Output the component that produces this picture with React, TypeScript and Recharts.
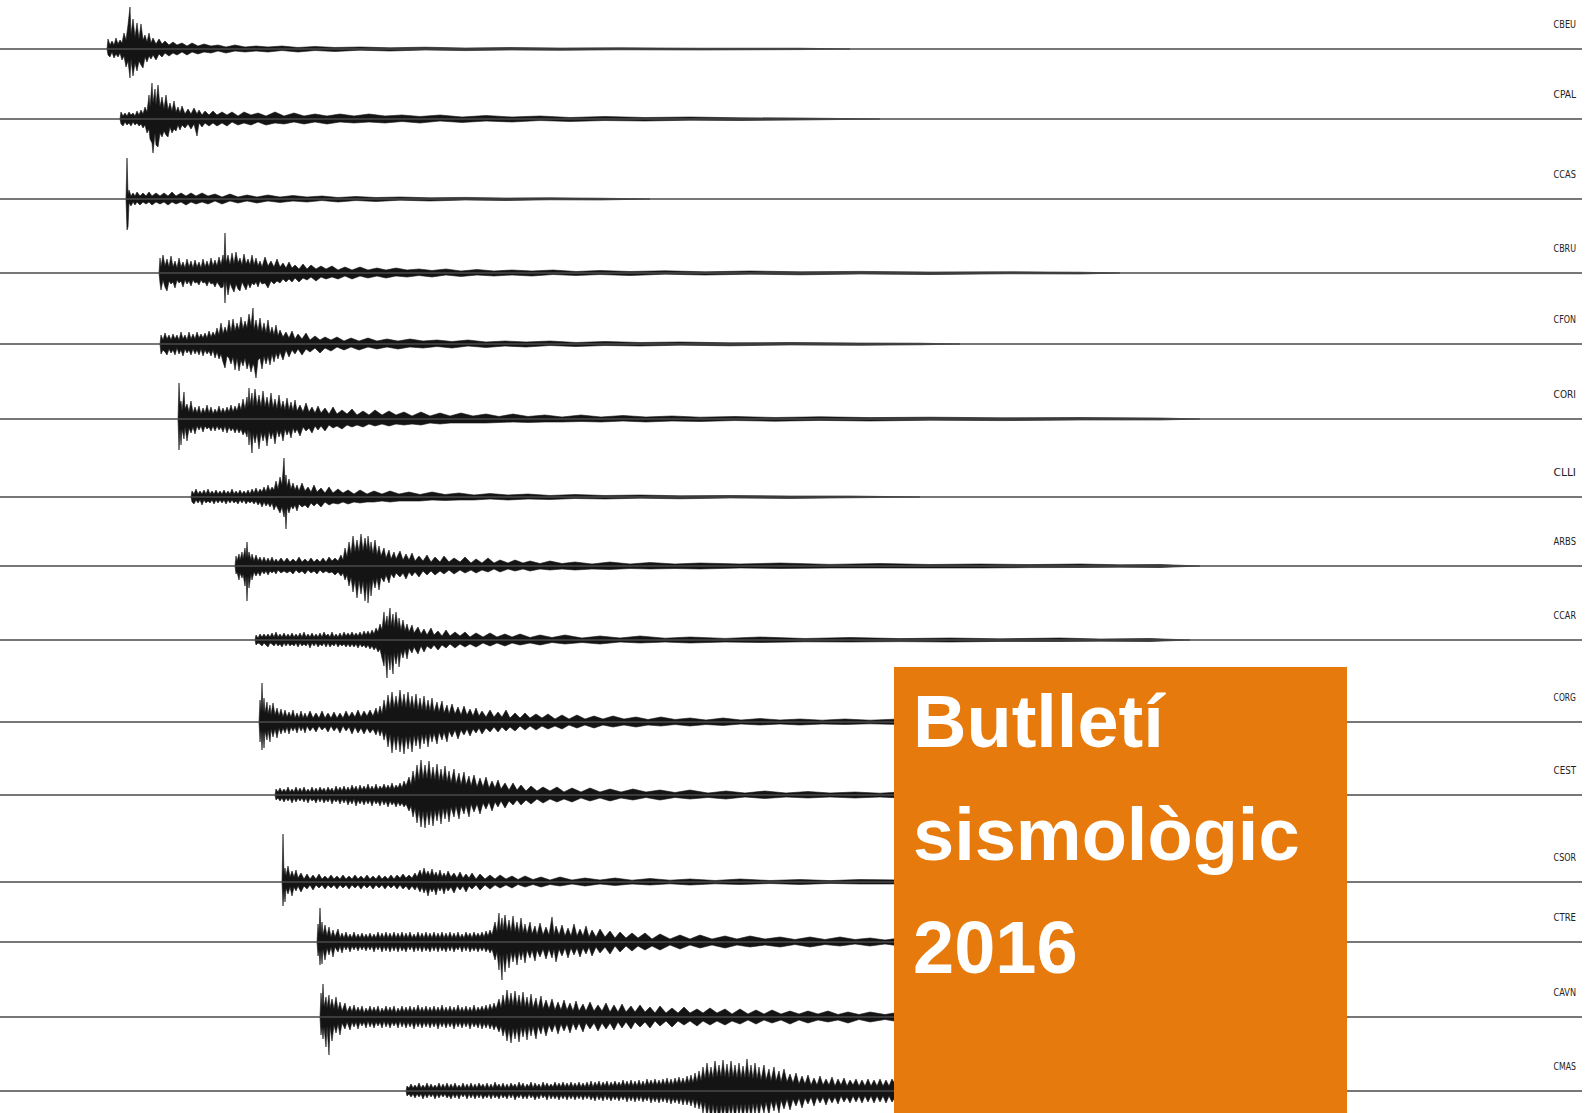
import React from "react";
import { AreaChart, Area, XAxis, YAxis, ReferenceLine } from "recharts";

// each sample: [time (px along the record), amplitude up, amplitude down]
type Sample = [number, number, number];

const CBEU: Sample[] = [
  [107,0,0],[108,10,6],[110,4,8],[112,8,3],[114,4,9],[116,11,5],[118,5,8],[120,9,4],[122,6,11],[124,16,7],[126,9,18],[128,24,12],[130,42,29],[131,14,10],[133,30,27],[135,12,14],[137,26,22],[139,10,12],[141,25,16],[143,9,19],[145,14,8],[147,7,13],[149,16,7],[151,6,10],[153,11,6],[156,5,11],[159,10,5],[162,5,8],[165,8,4],[169,4,7],[173,7,4],[177,4,6],[182,6,3],[187,3,6],[192,6,3],[198,3,5],[204,5,3],[211,3,4],[218,4,2],[226,2,4],[235,4,2],[245,2,3],[256,3,2],[268,2,3],[282,3,1.5],[298,1.5,3],[315,2.5,1.5],[335,1.5,2.5],[360,2,1.2],[390,1.2,2],[425,1.8,1],[465,1,1.6],[510,1.4,1],[560,1,1.3],[620,1.2,0.8],[700,0.8,1],[800,0.8,0.6],[850,0,0],
];
const CPAL: Sample[] = [
  [120,0,0],[121,7,5],[123,3,7],[125,6,3],[127,3,6],[129,7,4],[131,4,7],[133,6,3],[135,3,6],[137,8,4],[139,4,7],[141,9,5],[143,5,9],[145,12,6],[147,7,14],[149,24,10],[150,12,20],[152,36,24],[153,16,34],[155,30,14],[156,14,26],[158,34,28],[160,12,14],[162,22,18],[164,10,12],[166,24,16],[168,9,18],[170,16,8],[172,8,14],[174,18,10],[176,7,12],[178,12,6],[180,6,11],[182,13,6],[185,5,9],[188,10,5],[191,5,10],[194,11,5],[197,5,17],[199,9,4],[202,4,8],[205,8,4],[209,4,7],[213,8,4],[217,4,7],[222,7,4],[227,4,7],[232,7,3],[238,3,6],[244,7,4],[251,4,6],[258,6,3],[266,3,6],[275,7,4],[284,3,5],[294,6,3],[304,3,5],[315,5,3],[327,3,5],[340,5,3],[354,3,4],[369,5,3],[385,3,4],[402,4,2.5],[420,2.5,4],[440,4,2],[462,2,3.5],[486,3.5,2],[512,2,3],[540,3,1.5],[570,1.5,2.5],[605,2.5,1.5],[645,1.5,2],[690,2,1.2],[740,1.2,1.5],[800,1,1],[880,0,0],
];
const CCAS: Sample[] = [
  [126,0,0],[127,41,31],[128,5,28],[129,9,4],[131,3,7],[133,6,3],[135,3,6],[137,7,3],[140,3,6],[143,6,3],[146,3,5],[149,7,3],[152,3,6],[156,6,3],[160,3,5],[164,6,3],[168,3,6],[172,7,3],[176,3,5],[181,6,3],[186,3,6],[191,6,3],[196,3,5],[202,6,3],[208,3,5],[215,5,2],[222,2,5],[230,5,2],[238,2,4],[247,4,2],[257,2,4],[268,4,2],[280,2,3.5],[293,3.5,2],[307,2,3],[322,3,1.5],[338,1.5,3],[356,2.5,1.5],[376,1.5,2.5],[400,2,1.2],[430,1.2,2],[465,1.6,1],[505,1,1.5],[550,1.2,0.8],[600,0.8,1],[650,0,0],
];
const CBRU: Sample[] = [
  [159,0,0],[160,15,10],[161,6,17],[163,18,7],[165,7,14],[167,14,18],[169,6,8],[171,17,11],[173,6,9],[175,12,15],[177,5,7],[179,15,10],[181,6,8],[183,11,14],[185,5,7],[187,14,11],[189,6,8],[191,12,13],[193,5,7],[195,13,10],[197,6,9],[199,11,12],[201,5,7],[203,14,10],[205,6,9],[207,12,13],[209,6,8],[211,15,11],[213,7,10],[215,13,14],[217,7,9],[219,16,12],[221,8,15],[223,18,14],[224,10,8],[225,40,30],[226,10,8],[228,18,22],[230,8,10],[232,20,15],[234,9,19],[236,21,11],[238,10,16],[240,15,18],[242,8,9],[244,19,13],[246,9,17],[248,14,10],[250,8,15],[252,18,10],[254,8,12],[256,15,9],[258,7,14],[260,12,8],[262,6,11],[265,16,10],[268,7,15],[271,12,8],[274,6,11],[277,14,8],[280,6,10],[283,10,6],[286,5,9],[289,11,6],[292,5,9],[295,8,5],[299,4,9],[303,9,5],[307,4,7],[311,8,4],[316,4,8],[321,7,4],[326,4,6],[332,7,4],[338,3,6],[345,6,3],[352,3,6],[360,6,3],[368,3,5],[377,5,3],[386,3,5],[396,5,3],[407,3,4],[419,4,2.5],[432,2.5,4],[446,4,2],[461,2,3.5],[477,3.5,2],[494,2,3],[512,3,2],[532,2,3],[553,3,1.5],[576,1.5,2.5],[600,2.5,1.5],[630,1.5,2.5],[665,2.2,1.2],[705,1.2,2],[750,2,1.2],[800,1.2,1.8],[860,1.6,1],[930,1,1.5],[1010,1.2,0.8],[1080,0.8,1],[1120,0,0],
];
const CFON: Sample[] = [
  [160,0,0],[161,9,10],[163,4,6],[165,11,8],[167,5,11],[169,9,5],[171,4,9],[173,10,6],[175,5,11],[177,9,4],[179,4,10],[181,12,6],[183,5,12],[185,9,5],[187,4,9],[189,12,6],[191,5,11],[193,10,5],[195,5,10],[197,12,6],[199,6,11],[201,10,5],[203,6,12],[205,11,6],[207,6,10],[209,13,7],[211,7,12],[213,12,6],[215,8,14],[217,16,8],[219,9,15],[221,21,10],[223,10,18],[225,17,24],[227,11,12],[229,24,14],[231,12,20],[233,25,13],[235,13,26],[237,21,14],[239,14,27],[241,27,16],[243,15,22],[245,23,14],[247,16,25],[249,30,18],[251,18,28],[253,36,20],[254,14,22],[256,24,34],[258,13,16],[260,26,14],[262,12,25],[264,21,12],[266,11,20],[268,24,12],[270,10,21],[272,17,10],[274,9,18],[276,19,9],[278,8,15],[280,14,8],[283,7,16],[286,12,6],[289,6,13],[292,13,6],[295,5,10],[298,10,5],[302,5,11],[306,11,5],[310,4,8],[315,8,4],[320,4,9],[325,7,4],[331,4,7],[337,7,3],[344,3,6],[351,6,3],[359,3,6],[368,6,3],[377,3,5],[387,5,3],[398,3,5],[410,5,3],[423,3,4],[437,4,2.5],[452,2.5,4],[468,4,2],[486,2,3.5],[505,3,2],[526,2,3],[550,3,1.5],[576,1.5,2.5],[605,2.5,1.5],[640,1.5,2],[680,2,1.2],[730,1.2,1.8],[790,1.5,1],[860,1,1.3],[920,0.8,0.8],[960,0,0],
];
const CORI: Sample[] = [
  [178,0,0],[179,36,31],[180,14,10],[181,18,26],[182,8,10],[184,27,20],[185,10,8],[187,15,22],[189,7,9],[191,18,14],[193,6,8],[195,12,15],[197,6,7],[199,13,11],[201,5,7],[203,11,13],[205,6,7],[207,14,10],[209,6,8],[211,12,12],[213,5,7],[215,10,12],[217,6,7],[219,13,11],[221,6,8],[223,11,13],[225,6,7],[227,12,14],[229,7,8],[231,14,12],[233,7,9],[235,13,14],[237,8,9],[239,16,14],[241,9,10],[243,20,16],[245,10,12],[247,22,18],[248,12,10],[249,31,26],[250,14,12],[252,26,34],[253,12,14],[255,30,24],[257,13,14],[259,24,30],[261,12,13],[263,28,22],[265,12,14],[267,22,27],[269,11,12],[271,26,20],[273,11,13],[275,20,25],[277,10,11],[279,24,18],[281,10,12],[283,18,22],[285,9,10],[287,21,16],[289,9,11],[291,17,19],[293,8,9],[295,19,14],[297,8,10],[300,14,17],[303,7,8],[306,16,12],[309,7,9],[312,12,14],[315,6,7],[318,13,11],[321,6,7],[325,11,12],[329,5,6],[333,12,9],[337,5,7],[342,9,10],[347,5,6],[352,10,8],[357,4,6],[363,8,8],[369,4,5],[375,9,7],[382,4,5],[389,8,7],[396,4,5],[404,7,6],[412,3,5],[421,7,6],[430,3,4],[440,6,5],[450,3,4],[461,6,4],[473,3,4],[486,5,4],[499,2.5,3.5],[513,5,3],[528,2.5,3.5],[545,4,3],[562,2,3],[581,4,2.5],[601,2,3],[623,3.5,2],[646,2,3],[672,3,2],[700,1.8,2.5],[735,2.5,1.5],[775,1.5,2.2],[820,2.2,1.4],[870,1.4,2],[930,1.8,1.2],[1000,1.2,1.6],[1080,1.4,1],[1160,1,1],[1200,0,0],
];
const CLLI: Sample[] = [
  [191,0,0],[192,6,5],[194,3,7],[196,8,3],[198,3,6],[200,6,3],[202,3,8],[204,7,3],[206,3,6],[208,8,4],[210,3,6],[212,6,3],[214,3,7],[216,7,3],[218,3,6],[220,6,3],[222,3,6],[224,7,3],[226,3,7],[228,6,3],[230,3,6],[232,8,3],[234,3,6],[236,6,4],[238,3,7],[240,7,3],[242,3,6],[244,6,3],[246,3,7],[248,7,4],[250,3,6],[252,8,4],[254,4,7],[256,9,4],[258,4,8],[260,8,5],[262,5,10],[264,10,5],[266,5,9],[268,12,6],[270,6,10],[272,10,6],[274,7,13],[276,16,8],[278,8,12],[280,20,16],[282,12,10],[284,39,20],[285,14,12],[286,22,32],[287,10,10],[289,18,16],[291,8,9],[293,14,12],[295,7,8],[297,12,14],[299,6,7],[302,14,10],[305,6,8],[308,10,11],[311,5,6],[314,12,9],[317,5,6],[321,9,10],[325,4,5],[329,10,8],[333,4,6],[338,8,7],[343,4,5],[348,7,7],[354,3,5],[360,7,6],[367,3,5],[374,6,5],[382,3,4],[390,6,5],[399,3,4],[409,5,4],[420,2.5,4],[432,5,3],[445,2.5,3.5],[459,4,3],[474,2,3],[490,3.5,2],[508,2,3],[528,3,2],[550,1.5,2.5],[575,2.5,1.5],[605,1.5,2],[640,2,1.2],[680,1.2,1.8],[730,1.5,1],[790,1,1.4],[850,1,0.8],[920,0,0],
];
const ARBS: Sample[] = [
  [235,0,0],[236,10,8],[237,5,6],[239,12,14],[240,6,7],[242,14,12],[243,7,8],[245,18,20],[246,8,10],[247,24,35],[248,8,10],[249,14,22],[251,6,8],[252,12,14],[254,5,6],[256,11,10],[258,5,6],[260,9,10],[262,4,5],[264,9,8],[266,4,5],[268,8,9],[270,4,5],[272,9,7],[274,4,5],[276,7,8],[278,4,4],[281,8,7],[284,4,5],[287,8,7],[290,4,5],[293,7,8],[296,4,4],[299,9,7],[302,4,5],[305,7,8],[308,4,4],[311,8,7],[314,4,5],[317,7,8],[320,4,4],[323,8,7],[326,4,5],[329,9,7],[332,5,6],[335,8,9],[338,5,6],[341,11,10],[343,6,7],[345,18,14],[347,9,9],[349,24,20],[351,12,11],[353,30,26],[355,14,14],[357,26,32],[359,14,14],[361,32,28],[363,15,15],[365,28,35],[367,16,16],[368,30,37],[370,14,15],[371,24,30],[373,12,13],[375,26,22],[377,11,12],[379,20,24],[381,10,11],[384,18,16],[386,8,9],[389,16,17],[391,7,8],[394,14,12],[396,7,7],[400,15,11],[403,6,7],[406,12,13],[409,6,6],[412,13,10],[415,5,6],[419,10,11],[423,5,5],[427,11,9],[431,4,5],[435,9,9],[440,4,5],[444,10,8],[449,4,4],[454,8,8],[460,4,4],[465,9,7],[471,3,4],[476,7,7],[482,3,4],[488,8,6],[494,3,3],[500,6,6],[508,3,3],[515,6,5],[523,3,3],[530,5,5],[540,2.5,3],[550,5,4],[562,2.5,3],[575,4,4],[592,2,3],[610,4,3.5],[630,2,2.5],[650,3.5,3],[675,2,2.5],[700,3,3],[740,2,2],[780,3,2.5],[830,1.6,2],[880,2.5,2],[930,1.5,2],[980,2,2],[1030,1.4,1.6],[1080,2,1.5],[1120,1.2,1.2],[1160,1.5,1.5],[1200,0,0],
];
const CCAR: Sample[] = [
  [255,0,0],[256,5,5],[258,2,3],[260,6,4],[262,3,6],[264,6,3],[266,3,5],[268,6,7],[270,3,3],[272,7,4],[274,3,6],[276,8,3],[278,3,6],[280,6,4],[282,3,7],[284,7,3],[286,3,6],[288,6,3],[290,3,6],[292,7,4],[294,3,6],[296,6,3],[298,3,7],[300,7,3],[302,3,6],[304,8,4],[306,3,6],[308,6,3],[310,3,8],[312,7,3],[314,3,6],[316,6,3],[318,3,7],[320,7,4],[322,3,6],[324,8,3],[326,4,7],[328,6,3],[330,3,7],[332,8,4],[334,3,6],[336,6,3],[338,3,7],[340,7,4],[342,3,6],[344,8,4],[346,4,7],[348,7,4],[350,4,7],[352,8,4],[354,4,7],[356,7,4],[358,4,8],[360,8,4],[362,4,7],[364,9,5],[366,5,8],[368,9,5],[370,5,9],[372,10,6],[374,6,10],[376,12,7],[378,8,12],[380,16,9],[382,10,18],[384,28,26],[385,14,12],[387,24,38],[388,13,14],[390,32,30],[391,14,14],[393,26,34],[394,12,13],[396,28,24],[398,12,12],[399,22,27],[401,10,11],[403,20,18],[405,9,9],[407,16,19],[409,8,8],[412,15,13],[414,7,7],[418,13,14],[421,6,6],[424,11,12],[427,5,6],[431,12,9],[434,5,5],[438,9,10],[442,4,5],[446,10,8],[450,4,4],[455,8,8],[460,4,4],[465,8,7],[470,3,4],[476,7,7],[483,3,3],[490,7,6],[497,3,3],[505,6,6],[512,3,3],[520,6,5],[530,2.5,3],[540,5,5],[552,2.5,2.5],[565,5,4],[582,2,2.5],[600,4,4],[620,2,2],[640,4,3],[665,1.8,2],[690,3,3],[725,1.6,2],[760,3,2.5],[805,1.5,1.8],[850,2.5,2],[900,1.4,1.6],[950,2,2],[1000,1.2,1.4],[1060,2,1.5],[1100,1,1.2],[1150,1.5,1.5],[1190,0,0],
];
const CORG: Sample[] = [
  [259,0,0],[260,22,20],[261,10,8],[262,39,28],[263,10,9],[264,24,26],[265,9,9],[267,20,18],[268,8,8],[270,17,20],[271,7,7],[273,19,15],[275,7,7],[277,14,16],[279,6,6],[281,13,12],[283,5,6],[285,12,11],[287,5,5],[289,10,12],[291,5,5],[293,12,9],[295,4,5],[297,9,11],[299,4,4],[301,11,9],[303,4,5],[305,9,11],[307,4,4],[310,11,9],[313,4,5],[316,9,10],[319,4,4],[322,11,8],[325,4,5],[328,9,10],[331,4,4],[334,10,9],[337,4,5],[340,9,11],[343,4,4],[346,11,9],[349,5,5],[352,10,12],[355,5,5],[358,12,11],[361,5,6],[364,11,12],[367,6,6],[370,12,11],[373,6,7],[376,14,13],[378,7,7],[380,16,14],[382,8,8],[384,22,18],[386,11,10],[388,27,25],[390,13,12],[392,30,31],[394,14,14],[396,26,28],[398,14,13],[400,32,30],[402,15,15],[404,28,32],[406,14,14],[408,30,27],[410,14,14],[412,26,30],[414,13,13],[416,28,24],[418,12,13],[420,24,27],[422,12,12],[424,26,22],[426,11,12],[428,22,25],[430,11,11],[432,24,20],[434,10,11],[437,20,22],[439,10,10],[442,21,18],[444,9,10],[447,17,20],[449,8,9],[452,18,15],[455,8,8],[458,15,17],[461,7,8],[464,16,13],[467,7,7],[470,13,14],[473,6,7],[476,14,11],[479,6,6],[482,11,12],[486,5,6],[490,12,10],[494,5,5],[498,10,10],[502,5,5],[506,12,9],[510,4,5],[515,9,9],[520,4,4],[525,9,8],[530,4,4],[536,8,8],[542,4,4],[548,8,7],[555,3,4],[562,7,7],[569,3,3],[577,7,6],[585,3,3],[594,6,6],[603,3,3],[613,6,5],[624,3,3],[636,5,5],[648,2.5,3],[661,5,4],[675,2.5,2.5],[690,4,4],[706,2,2.5],[723,4,3.5],[741,2,2],[760,3.5,3],[780,2,2],[800,3,3],[822,1.8,2],[845,3,2.5],[870,1.8,1.8],[900,3,2.5],
];
const CEST: Sample[] = [
  [275,0,0],[276,6,5],[278,3,3],[280,7,6],[282,3,3],[284,6,7],[286,3,3],[288,8,6],[290,3,3],[292,6,8],[294,3,3],[296,8,7],[298,3,3],[300,7,6],[302,3,3],[304,8,7],[306,3,3],[308,6,8],[310,3,3],[312,8,6],[314,3,4],[316,7,8],[318,3,3],[320,8,7],[322,4,3],[324,7,8],[326,3,4],[328,8,7],[330,4,3],[332,7,9],[334,3,4],[336,9,7],[338,4,4],[340,8,9],[342,4,4],[344,9,8],[346,4,4],[348,8,10],[350,4,5],[352,10,9],[354,5,4],[356,9,11],[358,4,5],[360,10,9],[362,5,5],[364,9,10],[366,5,5],[368,11,9],[370,5,5],[372,9,11],[374,5,5],[376,11,9],[378,5,6],[380,9,11],[382,6,5],[384,11,10],[386,6,6],[388,10,12],[390,6,6],[392,12,10],[394,6,7],[396,10,12],[398,7,7],[400,12,11],[402,7,8],[404,14,12],[406,9,9],[409,18,16],[411,10,11],[413,24,22],[415,13,13],[417,30,28],[419,15,15],[421,35,32],[423,16,16],[425,30,33],[427,16,16],[429,34,30],[431,15,15],[433,28,31],[435,15,15],[437,31,26],[439,14,14],[441,26,29],[443,14,13],[445,29,24],[447,13,13],[449,24,27],[451,12,12],[454,26,22],[456,11,11],[459,22,24],[461,10,11],[464,23,19],[466,10,10],[469,19,22],[471,9,9],[474,20,17],[477,8,9],[480,17,19],[483,8,8],[486,18,14],[489,7,7],[492,14,16],[495,7,7],[498,15,12],[501,6,6],[505,12,13],[509,5,6],[513,12,10],[517,5,5],[521,10,10],[526,4,5],[531,9,9],[537,4,4],[543,8,8],[550,4,4],[557,8,7],[564,3,4],[572,7,7],[581,3,3],[590,7,6],[600,3,3],[610,6,6],[621,3,3],[633,6,5],[646,3,2.5],[660,5,5],[675,2.5,2.5],[690,5,4],[708,2,2.5],[726,4,4],[745,2,2],[765,4,3.5],[786,2,2],[808,3.5,3],[830,2,2],[855,3,3],[880,1.8,2],[900,3,3],
];
const CSOR: Sample[] = [
  [282,0,0],[283,48,24],[284,8,8],[285,14,20],[286,6,6],[288,16,12],[290,5,5],[292,11,14],[294,5,5],[296,12,9],[298,4,4],[301,9,10],[304,3,4],[307,8,7],[310,3,3],[313,7,8],[316,3,3],[319,8,6],[322,3,3],[325,6,7],[328,3,3],[331,7,6],[334,3,3],[337,6,7],[340,3,3],[343,7,6],[346,3,3],[349,6,7],[352,3,3],[355,7,6],[358,3,3],[361,6,7],[364,3,3],[367,7,6],[370,3,3],[373,6,7],[376,3,3],[379,7,6],[382,3,3],[385,6,7],[388,3,3],[391,7,6],[394,3,3],[397,7,7],[400,4,3],[403,8,7],[406,4,4],[409,7,8],[412,4,4],[415,9,8],[417,5,4],[420,12,10],[422,6,5],[424,14,11],[426,7,6],[428,11,14],[430,6,6],[432,13,10],[434,6,6],[436,10,13],[438,5,5],[440,12,9],[442,5,5],[444,9,12],[446,5,5],[448,11,9],[451,5,5],[454,9,11],[457,4,4],[460,10,8],[463,4,4],[466,8,10],[469,4,4],[472,9,7],[476,3,3],[480,8,8],[485,3,3],[490,7,7],[495,3,3],[500,7,6],[506,3,3],[512,6,6],[518,2.5,2.5],[525,6,5],[533,2.5,2.5],[541,5,5],[550,2,2.5],[560,5,4],[572,2,2],[585,4,4],[600,2,2],[615,4,3.5],[632,1.8,2],[650,3.5,3],[670,1.8,1.8],[690,3,3],[715,1.5,1.8],[740,3,2.5],[770,1.5,1.5],[800,2.5,2.5],[830,1.4,1.4],[860,2.5,2],[900,2,2],
];
const CTRE: Sample[] = [
  [317,0,0],[318,18,14],[319,8,8],[320,34,23],[321,8,8],[322,20,22],[323,7,7],[325,17,18],[327,6,6],[329,15,13],[331,5,5],[333,12,15],[335,5,5],[338,13,10],[340,4,4],[342,9,11],[344,4,4],[346,10,8],[348,4,4],[350,8,10],[352,4,4],[354,10,8],[356,4,4],[358,8,9],[360,4,4],[362,9,8],[364,4,4],[366,8,9],[368,4,4],[370,9,8],[372,4,4],[374,8,10],[376,4,4],[378,10,8],[380,4,4],[382,9,10],[384,4,4],[386,10,9],[388,4,4],[390,9,10],[392,4,4],[394,10,9],[396,4,4],[398,9,10],[400,4,4],[402,10,9],[404,4,5],[406,9,10],[408,4,4],[410,10,8],[412,4,4],[414,8,10],[416,4,4],[418,10,9],[420,4,4],[422,9,10],[424,4,4],[426,10,9],[428,4,5],[430,9,10],[432,4,4],[434,10,9],[436,4,4],[438,9,10],[440,4,4],[442,10,9],[444,4,5],[446,9,10],[448,4,4],[450,10,9],[452,4,4],[454,9,10],[456,4,5],[458,10,8],[460,4,4],[462,8,10],[464,4,4],[466,10,9],[468,5,4],[470,9,10],[472,4,5],[474,10,9],[476,5,5],[478,9,10],[480,5,5],[482,10,9],[484,5,5],[486,11,10],[488,6,6],[490,12,11],[492,7,7],[495,20,18],[497,10,10],[499,29,28],[500,12,12],[502,24,38],[503,11,12],[505,27,30],[507,11,11],[509,22,26],[511,10,10],[513,26,20],[515,10,10],[517,20,23],[519,9,9],[521,24,18],[523,9,9],[525,18,21],[527,8,8],[530,20,16],[532,8,8],[535,16,19],[537,7,8],[540,19,15],[543,7,7],[546,15,17],[549,7,7],[552,25,16],[554,7,7],[556,16,20],[559,7,7],[562,17,14],[565,6,6],[568,14,16],[571,6,6],[574,18,13],[577,6,6],[580,13,15],[583,6,6],[586,16,12],[589,5,5],[592,12,14],[596,5,5],[600,13,11],[605,5,5],[610,11,12],[615,4,4],[620,10,10],[626,4,4],[632,9,9],[638,4,4],[645,9,8],[652,3,4],[660,8,8],[670,3,3],[680,7,7],[690,3,3],[700,7,6],[712,3,3],[725,6,6],[737,3,3],[750,6,5],[765,3,3],[780,5,5],[795,2.5,2.5],[810,5,5],[825,2.5,2.5],[840,5,4],[855,2.5,2],[870,4,4],[885,2,2],[900,4,4],
];
const CAVN: Sample[] = [
  [320,0,0],[321,24,18],[322,10,10],[323,33,22],[324,10,10],[326,20,30],[327,9,9],[329,22,38],[330,9,9],[332,18,24],[334,8,8],[336,20,16],[338,7,7],[340,15,18],[342,6,6],[345,14,12],[347,5,5],[350,11,13],[352,5,5],[354,12,10],[356,5,5],[358,10,12],[360,5,5],[362,11,9],[364,4,5],[366,9,11],[368,5,4],[370,11,10],[372,5,5],[374,10,11],[376,5,5],[378,11,9],[380,4,5],[382,9,11],[384,5,4],[386,11,10],[388,5,5],[390,10,11],[392,5,5],[394,11,9],[396,4,5],[398,9,11],[400,5,4],[402,11,10],[404,5,5],[406,10,11],[408,5,5],[410,11,10],[412,5,5],[414,10,12],[416,5,5],[418,12,10],[420,5,5],[422,10,11],[424,5,5],[426,11,10],[428,5,5],[430,10,11],[432,5,5],[434,11,10],[436,5,5],[438,10,12],[440,5,5],[442,12,10],[444,5,5],[446,10,11],[448,5,5],[450,11,10],[452,5,5],[454,10,12],[456,5,5],[458,12,10],[460,5,5],[462,10,11],[464,5,5],[466,11,10],[468,5,5],[470,10,12],[472,5,5],[474,12,10],[476,5,6],[478,10,11],[480,6,5],[482,11,12],[484,6,6],[486,12,11],[488,6,6],[490,13,12],[492,7,7],[494,14,13],[496,8,8],[499,18,15],[501,9,9],[503,22,19],[505,11,11],[507,27,24],[509,12,12],[511,24,26],[513,11,11],[515,26,22],[517,11,11],[519,22,25],[521,10,10],[523,25,20],[525,10,10],[527,20,23],[529,9,9],[531,23,19],[533,9,9],[536,19,22],[538,8,9],[541,21,17],[543,8,8],[546,17,19],[549,8,8],[552,18,15],[555,7,7],[558,15,17],[561,7,7],[564,17,14],[567,7,7],[570,14,16],[573,6,6],[576,16,13],[579,6,6],[583,13,15],[586,6,6],[590,15,12],[594,6,6],[598,12,14],[602,6,6],[606,14,12],[610,5,6],[614,12,13],[618,5,5],[622,13,11],[626,5,5],[631,11,12],[635,5,5],[640,12,10],[645,5,5],[650,10,11],[655,4,4],[660,11,9],[666,4,4],[672,9,10],[678,4,4],[684,10,8],[690,4,4],[697,8,9],[703,4,4],[710,9,8],[717,4,4],[725,8,8],[732,3,4],[740,8,7],[748,3,3],[756,7,7],[764,3,3],[772,7,6],[781,3,3],[790,6,7],[799,3,3],[808,6,6],[818,3,3],[828,6,5],[838,2.5,3],[848,5,6],[859,2.5,2.5],[870,5,5],[885,2.5,2.5],[900,5,5],
];
const CMAS: Sample[] = [
  [406,0,0],[407,5,5],[409,3,3],[411,7,6],[413,3,3],[415,6,7],[417,3,3],[419,8,6],[421,3,3],[423,6,8],[425,3,3],[427,8,7],[429,3,3],[431,7,6],[433,3,3],[435,6,8],[437,3,3],[439,8,7],[441,3,3],[443,7,6],[445,3,3],[447,8,7],[449,3,4],[451,7,8],[453,3,3],[455,8,7],[457,3,3],[459,6,8],[461,3,3],[463,8,6],[465,3,3],[467,7,8],[469,3,3],[471,8,7],[473,3,3],[475,7,8],[477,3,3],[479,8,7],[481,4,3],[483,7,8],[485,3,4],[487,8,7],[489,3,3],[491,7,8],[493,3,3],[495,9,7],[497,4,4],[499,7,8],[501,3,3],[503,8,7],[505,3,4],[507,7,8],[509,3,3],[511,8,7],[513,4,3],[515,7,9],[517,3,4],[519,9,7],[521,4,3],[523,8,8],[525,3,4],[527,7,8],[529,4,3],[531,9,7],[533,3,4],[535,8,9],[537,4,4],[539,7,8],[541,3,3],[543,9,7],[545,4,4],[547,8,9],[549,4,3],[551,7,8],[553,4,4],[555,9,8],[557,4,4],[559,8,9],[561,4,4],[563,9,8],[565,4,4],[567,8,9],[569,4,4],[571,9,8],[573,4,4],[575,8,9],[577,4,4],[579,9,8],[581,4,4],[583,8,9],[585,4,4],[587,9,8],[589,4,4],[591,10,9],[593,4,5],[595,9,10],[597,5,4],[599,10,9],[601,4,5],[603,9,10],[605,5,4],[607,10,9],[609,4,5],[611,9,10],[613,5,5],[615,10,9],[617,5,5],[619,9,10],[621,5,5],[623,11,9],[625,5,5],[627,10,11],[629,5,5],[631,11,10],[633,5,5],[635,10,11],[637,5,5],[639,11,10],[641,5,5],[643,10,11],[645,5,6],[647,12,10],[649,6,5],[651,11,12],[653,6,6],[655,12,11],[657,6,6],[659,11,12],[661,6,6],[663,12,11],[665,6,6],[667,13,12],[669,6,6],[671,12,13],[673,6,7],[675,13,12],[677,7,7],[679,14,13],[681,7,7],[683,13,14],[685,7,7],[687,15,14],[689,8,8],[691,16,15],[693,8,8],[695,18,17],[697,9,9],[699,20,18],[701,10,10],[703,24,22],[705,12,11],[707,28,26],[709,13,13],[711,24,30],[713,13,13],[715,30,28],[717,14,14],[719,26,32],[721,14,14],[723,31,27],[725,14,14],[727,27,30],[729,13,14],[731,30,26],[733,14,13],[735,26,29],[737,13,13],[739,28,25],[741,13,13],[743,25,28],[745,13,13],[747,32,26],[749,13,13],[751,26,27],[753,12,12],[755,28,24],[757,12,12],[759,24,26],[761,11,12],[764,26,22],[766,11,11],[769,22,24],[771,10,10],[774,24,20],[776,10,10],[779,20,22],[781,9,9],[784,22,18],[787,9,8],[790,17,19],[793,8,8],[796,18,15],[799,7,7],[802,15,17],[805,7,7],[808,16,13],[811,6,6],[814,13,15],[817,6,6],[820,15,12],[823,6,6],[826,12,14],[829,6,6],[832,14,12],[835,5,6],[838,12,13],[841,6,5],[844,13,11],[847,5,6],[850,11,12],[853,6,5],[856,12,11],[859,5,5],[862,11,12],[865,5,5],[868,12,11],[871,5,5],[874,11,12],[877,5,5],[880,12,11],[883,5,5],[886,11,12],[889,5,5],[892,12,11],[896,5,5],[900,11,11],
];

const STATIONS = ["CBEU", "CPAL", "CCAS", "CBRU", "CFON", "CORI", "CLLI", "ARBS", "CCAR", "CORG", "CEST", "CSOR", "CTRE", "CAVN", "CMAS"];
const TRACES = [CBEU, CPAL, CCAS, CBRU, CFON, CORI, CLLI, ARBS, CCAR, CORG, CEST, CSOR, CTRE, CAVN, CMAS];

const TITLE = ["Butlletí", "sismològic", "2016"];

// layout
const W = 1588;
const H = 1113;
const TRACE_H = 120;
const BASELINES = [49, 119, 199, 273, 344, 419, 497, 566, 640, 722, 795, 882, 942, 1017, 1091];
const INK = "#141414";

function Trace({ name, samples, y }: { name: string; samples: Sample[]; y: number }) {
  const rows = samples.map(([t, up, dn]) => ({ t, band: [-dn, up] }));
  return (
    <div style={{ position: "absolute", left: 0, top: y - TRACE_H / 2 }}>
      <AreaChart width={W} height={TRACE_H} data={rows} margin={{ top: 0, right: 0, bottom: 0, left: 0 }}>
        <XAxis dataKey="t" type="number" domain={[0, W]} hide />
        <YAxis type="number" domain={[-TRACE_H / 2, TRACE_H / 2]} allowDataOverflow hide />
        <ReferenceLine
          segment={[{ x: 0, y: 0 }, { x: 1582, y: 0 }]}
          stroke="#4a4a4a"
          strokeWidth={1.3}
        />
        <Area
          dataKey="band"
          type="linear"
          stroke={INK}
          strokeWidth={0.6}
          fill={INK}
          fillOpacity={1}
          dot={false}
          activeDot={false}
          isAnimationActive={false}
        />
      </AreaChart>
      <svg width={W} height={TRACE_H} style={{ position: "absolute", left: 0, top: 0, pointerEvents: "none" }}>
        <text
          x={1576}
          y={TRACE_H / 2 - 21}
          textAnchor="end"
          fontSize={10.5}
          fill="#222"
          textLength={name.length * 5.6}
          lengthAdjust="spacingAndGlyphs"
          style={{ fontFamily: '"Liberation Sans Narrow", "DejaVu Sans Condensed", "Liberation Sans", sans-serif' }}
        >
          {name}
        </text>
      </svg>
    </div>
  );
}

export default function App() {
  return (
    <div style={{ position: "absolute", left: 0, top: 0, width: W, height: H, overflow: "hidden", background: "#fff" }}>
      {TRACES.map((s, i) => (
        <Trace key={STATIONS[i]} name={STATIONS[i]} samples={s} y={BASELINES[i]} />
      ))}
      <div style={{ position: "absolute", left: 894, top: 667, width: 453, height: 446, background: "#E67A0C" }} />
      <svg width={W} height={H} style={{ position: "absolute", left: 0, top: 0 }}>
        {TITLE.map((line, i) => (
          <text
            key={line}
            x={913}
            y={747 + i * 113}
            fill="#fff"
            fontSize={74}
            fontWeight="bold"
            style={{ fontFamily: '"Liberation Sans", Arial, sans-serif' }}
          >
            {line}
          </text>
        ))}
      </svg>
    </div>
  );
}
